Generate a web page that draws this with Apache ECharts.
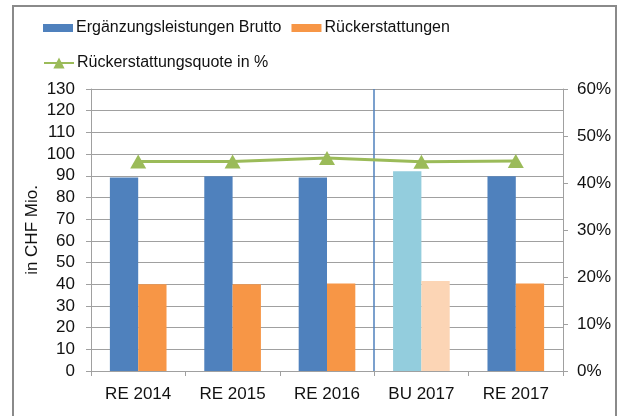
<!DOCTYPE html>
<html>
<head>
<meta charset="utf-8">
<script src="https://cdn.jsdelivr.net/npm/echarts@6/dist/echarts.min.js"></script>
<style>
  html, body { margin: 0; padding: 0; background: #fff; }
  #frame {
    position: absolute; left: 12px; top: 5px; width: 605px; height: 420px;
    border: 2px solid #8a8a8a; box-sizing: border-box;
  }
  #chart { position: absolute; left: 0; top: 0; width: 623px; height: 416px; }
</style>
</head>
<body>
<div id="frame"></div>
<div id="chart"></div>
<script>
// Kategorien und Werte
const categories = ['RE 2014', 'RE 2015', 'RE 2016', 'BU 2017', 'RE 2017']
const brutto = [89.2, 89.8, 89.2, 92.1, 89.8]
const rueckerstattungen = [40.0, 40.0, 40.3, 41.5, 40.3]
const quote = [44.6, 44.6, 45.3, 44.5, 44.7]
const leftTicks = { min: 0, max: 130, interval: 10 }
const rightTicks = { min: 0, max: 60, interval: 10 }

const budgetIndex = 3 // BU 2017 heller gefärbt
const fontFamily = 'Liberation Sans, Arial, sans-serif'

const chart = echarts.init(document.getElementById('chart'), null, { renderer: 'canvas' })

function barData(values, color, budgetColor) {
  return values.map((v, i) => ({
    value: v,
    itemStyle: { color: i === budgetIndex ? budgetColor : color },
  }))
}

const option = {
  backgroundColor: 'transparent',
  textStyle: { fontFamily: fontFamily },
  legend: [
    {
      left: 43,
      top: 20,
      padding: 0,
      itemWidth: 30,
      itemHeight: 8,
      itemGap: 10,
      icon: 'rect',
      textStyle: { fontSize: 16, color: '#111', padding: [0, 0, 0, -2] },
      data: ['Ergänzungsleistungen Brutto', 'Rückerstattungen'],
    },
    {
      left: 43,
      top: 55,
      padding: 0,
      itemWidth: 30,
      itemHeight: 14,
      textStyle: { fontSize: 16, color: '#111', padding: [0, 0, 0, -2] },
      data: ['Rückerstattungsquote in %'],
    },
  ],
  grid: { left: 91, right: 60, top: 89, bottom: 45 },
  xAxis: [
    {
      type: 'category',
      data: categories,
      axisLine: { lineStyle: { color: '#a0a0a0' } },
      axisTick: { show: true, length: 5, lineStyle: { color: '#a0a0a0' } },
      axisLabel: { fontSize: 17, color: '#111', margin: 15 },
    },
    {
      // versteckte Achse für die Trennlinie zwischen Rechnung und Budget
      type: 'value',
      min: 0,
      max: categories.length,
      show: false,
    },
  ],
  yAxis: [
    {
      type: 'value',
      min: leftTicks.min,
      max: leftTicks.max,
      interval: leftTicks.interval,
      name: 'in CHF Mio.',
      nameLocation: 'middle',
      nameGap: 50,
      nameMoveOverlap: false,
      nameTextStyle: { fontSize: 17, color: '#111' },
      axisLine: { show: true, lineStyle: { color: '#a0a0a0' } },
      axisTick: { show: true, length: 5, lineStyle: { color: '#a0a0a0' } },
      axisLabel: { fontSize: 17, color: '#111', margin: 16 },
      splitLine: { show: true, lineStyle: { color: '#a0a0a0' } },
    },
    {
      type: 'value',
      position: 'right',
      min: rightTicks.min,
      max: rightTicks.max,
      interval: rightTicks.interval,
      axisLine: { show: true, lineStyle: { color: '#a0a0a0' } },
      axisTick: { show: true, length: 5, lineStyle: { color: '#a0a0a0' } },
      axisLabel: { fontSize: 17, color: '#111', margin: 14, formatter: '{value}%' },
      splitLine: { show: false },
    },
  ],
  series: [
    {
      name: 'Ergänzungsleistungen Brutto',
      type: 'bar',
      itemStyle: { color: '#4f81bd' },
      data: barData(brutto, '#4f81bd', '#93cddd'),
      barGap: '0%',
      barCategoryGap: '40%',
    },
    {
      name: 'Rückerstattungen',
      type: 'bar',
      itemStyle: { color: '#f79646' },
      data: barData(rueckerstattungen, '#f79646', '#fcd5b5'),
      barGap: '0%',
      barCategoryGap: '40%',
    },
    {
      name: 'Rückerstattungsquote in %',
      type: 'line',
      yAxisIndex: 1,
      data: quote,
      symbol: 'triangle',
      symbolSize: [16, 14],
      lineStyle: { color: '#9bbb59', width: 3 },
      itemStyle: { color: '#9bbb59' },
      z: 5,
    },
    {
      // Trennlinie
      type: 'line',
      xAxisIndex: 1,
      yAxisIndex: 0,
      data: [],
      silent: true,
      markLine: {
        silent: true,
        symbol: 'none',
        label: { show: false },
        lineStyle: { color: '#4f81bd', width: 1.5, type: 'solid' },
        data: [{ xAxis: budgetIndex }],
      },
    },
  ],
}

chart.setOption(option)
</script>
</body>
</html>
